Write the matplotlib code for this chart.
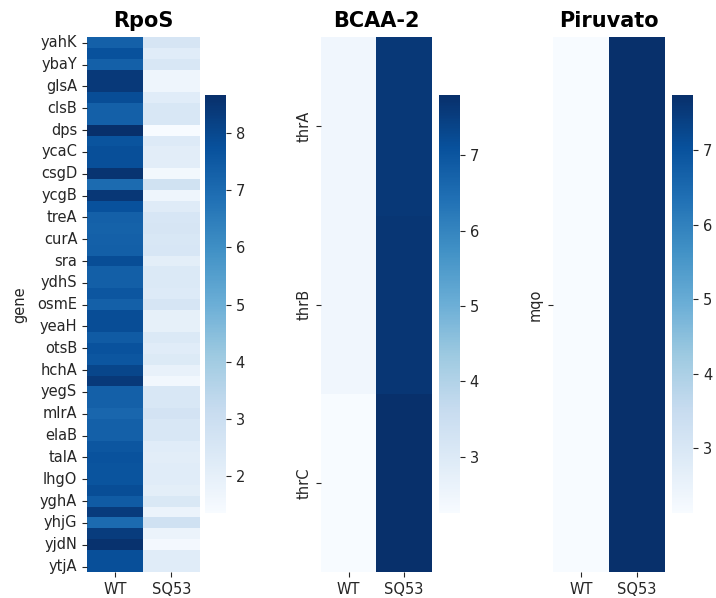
import numpy as np
import pandas as pd
import matplotlib
matplotlib.use("Agg")
import matplotlib.pyplot as plt
import seaborn as sns

# Expression values (log scale) per strain
strains = ["WT", "SQ53"]

# RpoS regulon: 49 genes, every other one labelled on the axis
rpos_labels = ["yahK", "ybaY", "glsA", "clsB", "dps", "ycaC", "csgD", "ycgB",
               "treA", "curA", "sra", "ydhS", "osmE", "yeaH", "otsB", "hchA",
               "yegS", "mlrA", "elaB", "talA", "lhgO", "yghA", "yhjG", "yjdN",
               "ytjA"]
rpos_wt = [7.30, 7.75, 7.30, 8.40, 8.40, 7.85, 7.30, 7.30, 8.67, 7.65,
           7.80, 7.80, 8.55, 7.00, 8.45, 7.75, 7.30, 7.25, 7.30, 7.35,
           7.85, 7.35, 7.35, 7.60, 7.30, 7.85, 7.85, 7.45, 7.70, 7.60,
           8.05, 8.40, 7.30, 7.30, 7.15, 7.30, 7.30, 7.60, 7.70, 7.65,
           7.65, 7.85, 7.45, 8.35, 7.00, 8.30, 8.60, 7.80, 7.80]
rpos_sq53 = [2.60, 2.20, 2.50, 1.70, 1.70, 2.20, 2.50, 2.50, 1.35, 2.30,
             2.15, 2.15, 1.55, 2.80, 1.70, 2.25, 2.55, 2.60, 2.50, 2.55,
             2.10, 2.40, 2.40, 2.30, 2.60, 2.00, 2.00, 2.40, 2.20, 2.35,
             1.90, 1.60, 2.50, 2.50, 2.70, 2.50, 2.50, 2.20, 2.15, 2.20,
             2.20, 2.10, 2.45, 1.80, 2.85, 1.80, 1.50, 2.20, 2.20]

# BCAA-2 operon
bcaa_genes = ["thrA", "thrB", "thrC"]
bcaa_wt = [2.45, 2.45, 2.25]
bcaa_sq53 = [7.62, 7.66, 7.80]

# Pyruvate metabolism
piru_genes = ["mqo"]
piru_wt = [2.13]
piru_sq53 = [7.74]

W, H = 716, 598
fig = plt.figure(figsize=(W / 100, H / 100), dpi=100)
plt.rcParams["font.family"] = ["DejaVu Sans"]

TICK_FS = 10.5
TEXT_COLOR = "#262626"


def fx(px):
    return px / W


def fy(top, bottom):
    return 1 - bottom / H, (bottom - top) / H


def add_panel(x0, x1, cx0, cx1, frame, title, cbar_ticks):
    b, h = fy(37.3, 572.0)
    ax = fig.add_axes([fx(x0), b, fx(x1 - x0), h])
    cb, ch = fy(95, 513)
    cax = fig.add_axes([fx(cx0), cb, fx(cx1 - cx0), ch])
    sns.heatmap(frame, cmap="Blues", ax=ax, cbar_ax=cax,
                xticklabels=True, yticklabels=False)
    ax.set_title(title, fontsize=15, fontweight="bold", pad=7.5)
    ax.set_xlabel("")
    ax.set_ylabel("")
    ax.tick_params(axis="both", length=3.5, width=0.8, color=TEXT_COLOR,
                   labelsize=TICK_FS, labelcolor=TEXT_COLOR)
    ax.set_xticklabels(frame.columns, rotation=0)
    cax.set_yticks(cbar_ticks)
    cax.tick_params(length=3.5, width=0.8, color=TEXT_COLOR,
                    labelsize=TICK_FS, labelcolor=TEXT_COLOR)
    return ax


rpos = pd.DataFrame({"WT": rpos_wt, "SQ53": rpos_sq53})[strains]
bcaa = pd.DataFrame({"WT": bcaa_wt, "SQ53": bcaa_sq53}, index=bcaa_genes)[strains]
piru = pd.DataFrame({"WT": piru_wt, "SQ53": piru_sq53}, index=piru_genes)[strains]

ax1 = add_panel(87, 199.5, 205, 226, rpos, "RpoS", [2, 3, 4, 5, 6, 7, 8])
ax1.set_yticks(np.arange(0, len(rpos_wt), 2) + 0.5)
ax1.set_yticklabels(rpos_labels, rotation=0, va="center")
ax1.tick_params(axis="y", length=3.5)
ax1.set_ylabel("gene", fontsize=TICK_FS, color=TEXT_COLOR, labelpad=7.5)

ax2 = add_panel(321, 431.7, 439.3, 460, bcaa, "BCAA-2", [3, 4, 5, 6, 7])
ax2.set_yticks(np.arange(len(bcaa_genes)) + 0.5)
ax2.set_yticklabels(bcaa_genes, rotation=90, va="center")

ax3 = add_panel(552.7, 665, 671.7, 693.3, piru, "Piruvato", [3, 4, 5, 6, 7])
ax3.set_yticks(np.arange(len(piru_genes)) + 0.5)
ax3.set_yticklabels(piru_genes, rotation=90, va="center")

fig.savefig("out.png", dpi=100)
